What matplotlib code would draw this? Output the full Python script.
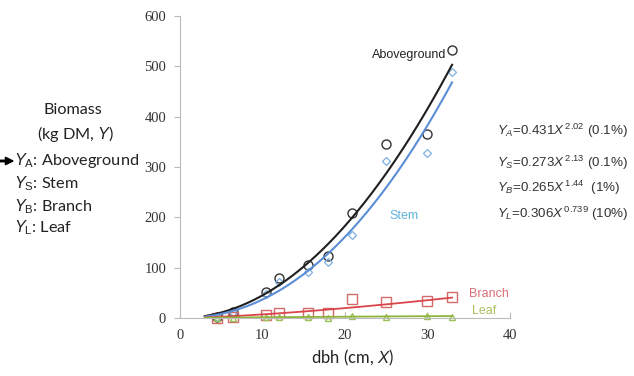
import numpy as np
import matplotlib
matplotlib.use("Agg")
from matplotlib import pyplot as plt

plt.rcParams['mathtext.fontset'] = 'custom'
plt.rcParams['mathtext.rm'] = 'Liberation Sans'
plt.rcParams['mathtext.it'] = 'Liberation Sans:italic'

######### data ############
dbh = [4.45, 6.4, 10.4, 12.0, 15.5, 18.0, 20.9, 25.0, 30.0, 33.0]
above = [2, 13, 51, 80, 105, 124, 209, 346, 365, 533]
stem = [2, 12, 48, 72, 91, 112, 165, 313, 328, 490]
branch = [0, 3, 7, 11, 10, 11, 38, 31, 34, 41]
leaf = [0.5, 1, 1.5, 2, 2, 1, 5, 3, 4, 3]

# fitted allometric models Y = a X^b
coef_a = [0.431, 0.273, 0.265, 0.306]
coef_b = [2.02, 2.13, 1.44, 0.739]
fit_range = [3, 33]

xfit = np.linspace(fit_range[0], fit_range[1], 200)

fig = plt.figure(figsize=(6.34, 3.76), dpi=100, facecolor="w")
ax = fig.add_axes([0.284, 0.154, 0.52, 0.803])

ax.plot(dbh, above, "o", mfc="none", mec="#333333", ms=6.5, mew=1, clip_on=False)
ax.plot(dbh, stem, "D", mfc="none", mec="#7fb0e0", ms=4, mew=0.9, clip_on=False)
ax.plot(dbh, branch, "s", mfc="none", mec="#d46a6a", ms=6.5, mew=1, clip_on=False)
ax.plot(dbh, leaf, "^", mfc="none", mec="#9bbf55", ms=5, mew=1, clip_on=False)

ax.plot(xfit, coef_a[0]*xfit**coef_b[0], "-", color="#1f1f1f", lw=1.5)
ax.plot(xfit, coef_a[1]*xfit**coef_b[1], "-", color="#5b8ed6", lw=1.5)
ax.plot(xfit, coef_a[2]*xfit**coef_b[2], "-", color="#d9454a", lw=1.3)
ax.plot(xfit, coef_a[3]*xfit**coef_b[3], "-", color="#8db53c", lw=1.3, clip_on=False)

ax.set_xlim(0, 40)
ax.set_ylim(0, 600)
ax.set_xticks([0, 10, 20, 30, 40])
ax.set_yticks([0, 100, 200, 300, 400, 500, 600])
for s in ["top", "right"]:
    ax.spines[s].set_visible(False)
for s in ["left", "bottom"]:
    ax.spines[s].set_color("#bbbbbb")
ax.tick_params(axis="y", direction="out", length=4, color="#bbbbbb", pad=6)
ax.tick_params(axis="x", direction="in", length=4, color="#bbbbbb", pad=8)
for lab in ax.get_xticklabels() + ax.get_yticklabels():
    lab.set_family("Liberation Serif")
    lab.set_fontsize(10.5)
    lab.set_color("#333333")

# labels in plot
ax.text(23.3, 523, "Aboveground", fontsize=9, family="Liberation Sans", color="#222222", va="center")
ax.text(25.4, 203, "Stem", fontsize=9, family="Liberation Sans", color="#5fb3d9", va="center")
ax.text(35.1, 47, "Branch", fontsize=9, family="Liberation Sans", color="#d9707a", va="center")
ax.text(35.4, 15, "Leaf", fontsize=9, family="Liberation Sans", color="#a8c060", va="center")

fig.text(352/634, 1-358/376, r"dbh (cm, $\mathit{X}$)", fontsize=12, family="Lato",
         ha="center", va="center", color="#222222")

# left description
fig.text(73/634, 1-110/376, "Biomass", fontsize=11.7, family="Lato", ha="center", va="center", color="#222222")
fig.text(75/634, 1-134/376, r"(kg DM, $\mathit{Y}$)", fontsize=11.7, family="Lato", ha="center", va="center", color="#222222")
desc = [r"$\mathit{Y}_\mathrm{A}$: Aboveground", r"$\mathit{Y}_\mathrm{S}$: Stem",
        r"$\mathit{Y}_\mathrm{B}$: Branch", r"$\mathit{Y}_\mathrm{L}$: Leaf"]
desc_y = [161, 184, 207, 228]
for d, yy in zip(desc, desc_y):
    fig.text(14/634, 1-yy/376, d, fontsize=11.7, family="Lato", ha="left", va="center", color="#222222")
fig.patches.append(matplotlib.patches.FancyArrow(0, 1-161/376, 13/634, 0, width=0.004,
                   head_width=0.02, head_length=0.012, length_includes_head=True,
                   color="black", transform=fig.transFigure, figure=fig))

# equations
eqs = [r"$\mathit{Y_A}$=0.431$\mathit{X}^{\,2.02}$ (0.1%)",
       r"$\mathit{Y_S}$=0.273$\mathit{X}^{\,2.13}$ (0.1%)",
       r"$\mathit{Y_B}$=0.265$\mathit{X}^{\,1.44}$  (1%)",
       r"$\mathit{Y_L}$=0.306$\mathit{X}^{\,0.739}$ (10%)"]
eq_y = [131, 163, 188, 214]
for e, yy in zip(eqs, eq_y):
    fig.text(497/634, 1-yy/376, e, fontsize=9.6, family="Liberation Sans", ha="left", va="center", color="#333333")

plt.savefig("out.png", dpi=100, facecolor="w")
